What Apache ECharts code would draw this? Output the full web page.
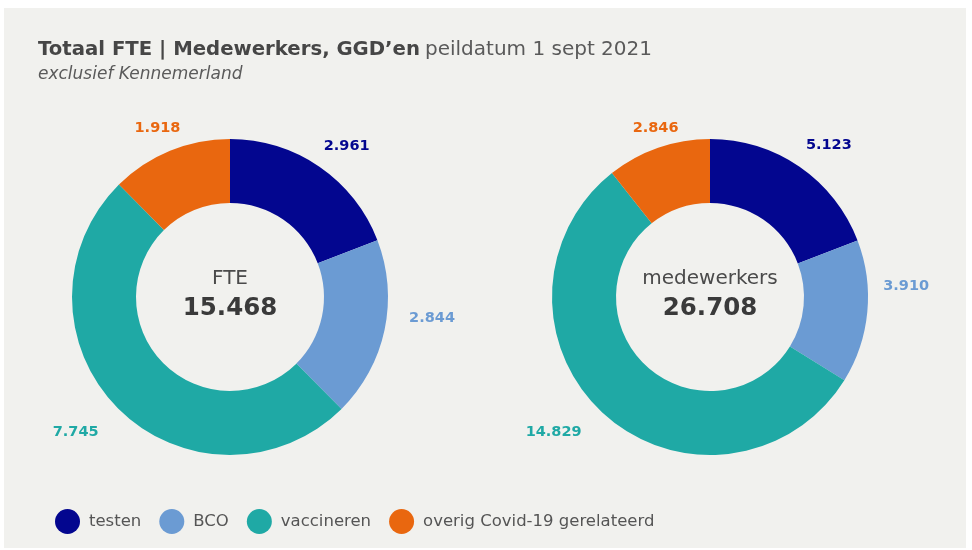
<!DOCTYPE html>
<html><head><meta charset="utf-8">
<script src="https://cdn.jsdelivr.net/npm/echarts@6/dist/echarts.min.js"></script>
<style>html,body{margin:0;padding:0;background:#fff}#c{width:972px;height:550px}</style>
</head><body><div id="c"></div>
<script>
const categories = ['testen', 'BCO', 'vaccineren', 'overig Covid-19 gerelateerd'];
const fteValues = [2961, 2844, 7745, 1918];
const medewerkersValues = [5123, 3910, 14829, 2846];
const centerLabels = ['FTE', 'medewerkers'];
const colors = ['#03068f', '#6b9bd3', '#1fa9a5', '#e9670f'];
const WIDE = '"DejaVu Sans", sans-serif';

// small nudges of the outside labels (style only)
const labelNudge = [
  [[-12, -4], [0, -16], [0, 10], [23, -4]],
  [[-10, -5], [-9, -28], [-5, 2], [32, -1]]
];

const fmt = v => v.toLocaleString('de-DE');
const sum = a => a.reduce((s, v) => s + v, 0);

function pieSeries(name, values, cx, si) {
  return {
    type: 'pie', name: name, radius: [94, 158],
    center: [cx, 297], startAngle: 90, clockwise: true, avoidLabelOverlap: false,
    data: categories.map((c, i) => ({ name: c, value: values[i], itemStyle: { color: colors[i] },
      label: { color: colors[i] } })),
    label: { show: true, position: 'outside', formatter: p => fmt(p.value),
      fontFamily: WIDE, fontWeight: 'bold', fontSize: 14.5 },
    labelLine: { show: false, length: 20, length2: 0 },
    labelLayout: p => ({ dx: labelNudge[si][p.dataIndex][0], dy: labelNudge[si][p.dataIndex][1] }),
    emphasis: { disabled: true }
  };
}

const chart = echarts.init(document.getElementById('c'));
chart.setOption({
  backgroundColor: '#ffffff',
  color: colors,
  animation: false,
  title: [{
    text: '{b|Totaal FTE | Medewerkers, GGD’en} {n|peildatum 1 sept 2021}',
    left: 33, top: 35,
    textStyle: { rich: {
      b: { fontFamily: WIDE, fontWeight: 'bold', fontSize: 19.7, color: '#464646' },
      n: { fontFamily: WIDE, fontWeight: 'normal', fontSize: 20, color: '#5a5a5a' } } }
  }, {
    text: 'exclusief Kennemerland', left: 33, top: 61,
    textStyle: { fontFamily: WIDE, fontStyle: 'italic', fontWeight: 'normal', fontSize: 17, color: '#5a5a5a' }
  }],
  legend: {
    left: 50, top: 504, icon: 'circle', itemWidth: 25, itemHeight: 25, itemGap: 18,
    data: categories,
    textStyle: { fontFamily: WIDE, fontSize: 16.5, color: '#555555', padding: [0, 0, 0, 4] }
  },
  graphic: [
    { type: 'rect', z: -10, silent: true, shape: { x: 4, y: 8, width: 962, height: 540 }, style: { fill: '#f1f1ee' } },
    { type: 'text', x: 230, y: 279, style: { text: centerLabels[0], fontFamily: WIDE, fontSize: 20, fill: '#4a4a4a', align: 'center', verticalAlign: 'middle' } },
    { type: 'text', x: 230, y: 309, style: { text: fmt(sum(fteValues)), fontFamily: WIDE, fontWeight: 'bold', fontSize: 24.5, fill: '#3a3a3a', align: 'center', verticalAlign: 'middle' } },
    { type: 'text', x: 710, y: 279, style: { text: centerLabels[1], fontFamily: WIDE, fontSize: 20, fill: '#4a4a4a', align: 'center', verticalAlign: 'middle' } },
    { type: 'text', x: 710, y: 309, style: { text: fmt(sum(medewerkersValues)), fontFamily: WIDE, fontWeight: 'bold', fontSize: 24.5, fill: '#3a3a3a', align: 'center', verticalAlign: 'middle' } }
  ],
  series: [pieSeries('FTE', fteValues, 230, 0), pieSeries('medewerkers', medewerkersValues, 710, 1)]
});
</script></body></html>
